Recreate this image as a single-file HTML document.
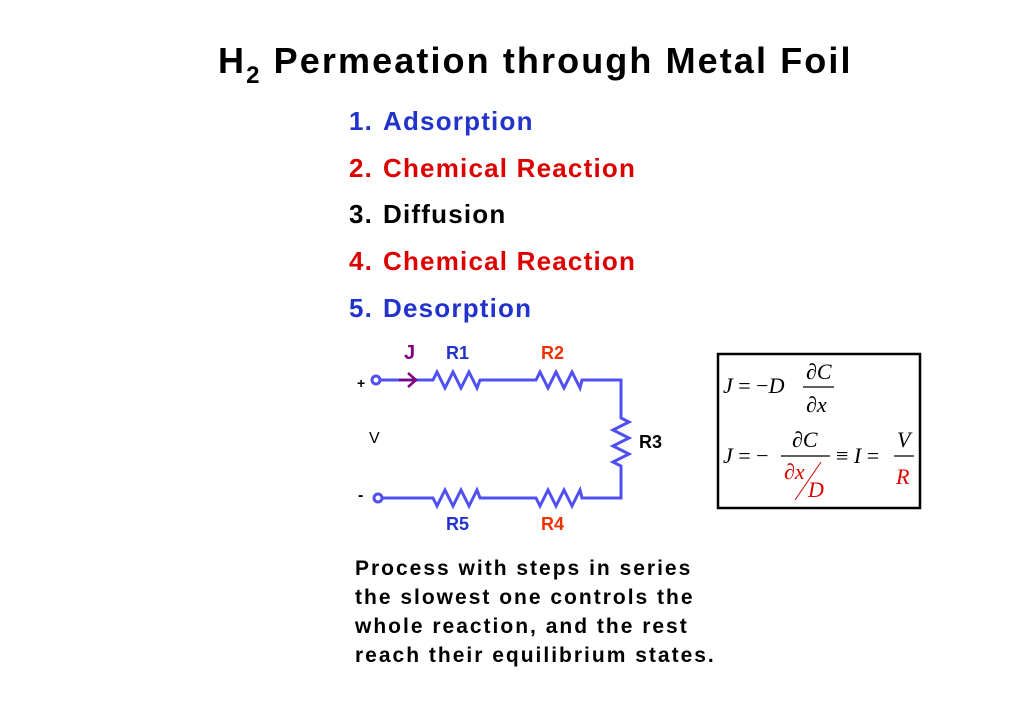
<!DOCTYPE html>
<html><head><meta charset="utf-8"><style>
body{margin:0;width:1024px;height:724px;background:#fff;position:relative;overflow:hidden;font-family:"Liberation Sans",sans-serif;font-weight:bold}
.a{position:absolute;white-space:nowrap}
.li{font-size:26px;left:349px;letter-spacing:1.2px}
.li span{display:inline-block;width:34px}
.p{font-size:21px;left:355px;letter-spacing:2px}
</style></head><body>
<div class="a" style="left:218px;top:40px;font-size:36px;letter-spacing:2.1px">H<span style="font-size:24px;position:relative;top:10px">2</span> Permeation through Metal Foil</div>
<div class="a li" style="top:106px;color:#2233cc"><span>1.</span>Adsorption</div>
<div class="a li" style="top:153px;color:#dd0000"><span>2.</span>Chemical Reaction</div>
<div class="a li" style="top:199px;color:#000"><span>3.</span>Diffusion</div>
<div class="a li" style="top:246px;color:#dd0000"><span>4.</span>Chemical Reaction</div>
<div class="a li" style="top:293px;color:#2233cc"><span>5.</span>Desorption</div>
<svg class="a" style="left:0;top:0" width="1024" height="724">
<g fill="none" stroke="#5050f0" stroke-width="3">
<circle cx="376" cy="380" r="4"/><circle cx="378" cy="498" r="4"/>
<polyline points="380,380 433,380 437,372 445,388 453,372 461,388 469,372 477,388 480,380 536,380 540,372 548,388 556,372 564,388 572,372 580,388 582,380 621,380 621,418 629,422 613,430 629,438 613,446 629,454 613,462 621,466 621,498 582,498 580,490 572,506 564,490 556,506 548,490 540,506 536,498 480,498 477,490 469,506 461,490 453,506 445,490 437,506 433,498 382,498"/>
</g>
<g fill="none" stroke="#800080" stroke-width="2.5"><line x1="399" y1="380" x2="416" y2="380"/><polyline points="408,373 416,380 408,387"/></g>
<g font-family="Liberation Sans" font-weight="bold" font-size="18">
<text x="404" y="359" fill="#800080" font-size="20">J</text>
<text x="446" y="359" fill="#2233cc">R1</text>
<text x="541" y="359" fill="#ee3300">R2</text>
<text x="639" y="448" fill="#000">R3</text>
<text x="446" y="530" fill="#2233cc">R5</text>
<text x="541" y="530" fill="#ee3300">R4</text>
<text x="357" y="388" font-size="14">+</text>
<text x="369" y="443" font-size="16" font-weight="normal">V</text>
<text x="358" y="500" font-size="16">-</text>
</g>
<rect x="718" y="354" width="202" height="154" fill="none" stroke="#000" stroke-width="2.5"/>
<g font-family="Liberation Serif" font-size="22" font-weight="normal">
<text x="723" y="393"><tspan font-style="italic">J</tspan> = −<tspan font-style="italic">D</tspan></text>
<text x="806" y="379">∂<tspan font-style="italic">C</tspan></text>
<line x1="803" y1="387" x2="834" y2="387" stroke="#000" stroke-width="1.2"/>
<text x="806" y="412">∂<tspan font-style="italic">x</tspan></text>
<text x="723" y="463"><tspan font-style="italic">J</tspan> = −</text>
<text x="792" y="447">∂<tspan font-style="italic">C</tspan></text>
<line x1="781" y1="456" x2="830" y2="456" stroke="#000" stroke-width="1.2"/>
<text x="784" y="479" fill="#dd0000">∂<tspan font-style="italic">x</tspan></text>
<line x1="795" y1="500" x2="821" y2="462" stroke="#dd0000" stroke-width="1"/>
<text x="808" y="497" fill="#dd0000" font-style="italic">D</text>
<text x="836" y="463">≡ <tspan font-style="italic">I</tspan> =</text>
<text x="897" y="447" font-style="italic">V</text>
<line x1="894" y1="456" x2="914" y2="456" stroke="#000" stroke-width="1.2"/>
<text x="896" y="484" font-style="italic" fill="#dd0000">R</text>
</g>
</svg>
<div class="a p" style="top:557px">Process with steps in series</div>
<div class="a p" style="top:586px">the slowest one controls the</div>
<div class="a p" style="top:615px">whole reaction, and the rest</div>
<div class="a p" style="top:644px">reach their equilibrium states.</div>
</body></html>
